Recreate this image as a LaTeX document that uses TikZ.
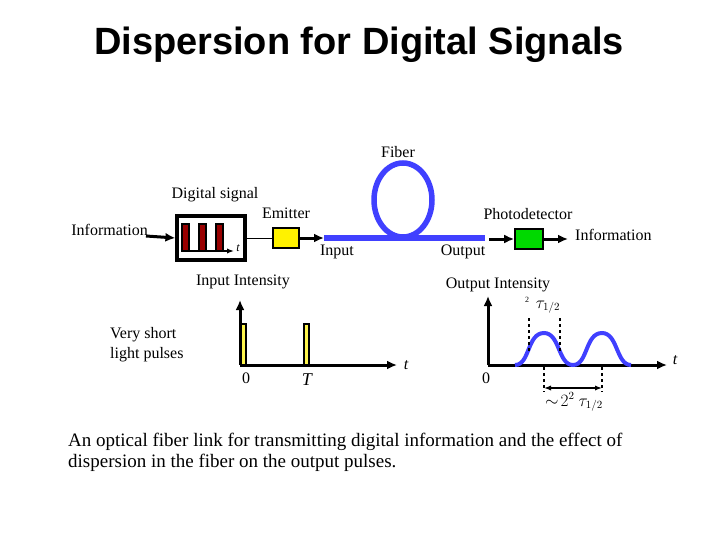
\documentclass[tikz,border=0pt]{standalone}
\usepackage{fontspec}
\setmainfont{Liberation Serif}
\newfontfamily\titlefont{Liberation Sans}
\usetikzlibrary{arrows.meta}
\begin{document}
\begin{tikzpicture}[x=1pt,y=-1pt,
  lbl/.style={inner sep=0pt,font=\fontsize{16}{18}\selectfont},
  arr/.style={line width=3pt,-{Latex[length=10pt,width=9pt]}},
  fib/.style={line width=5.5pt,color=blue!75!white},
  pulse/.style={draw=black,line width=2.6pt,fill=yellow!70!white},
  bar/.style={draw=black,line width=1.4pt,fill=red!60!black},
  dsh/.style={dashed,line width=1.5pt}]
\useasboundingbox (0,0) rectangle (720,540);
\node[font=\titlefont\bfseries\fontsize{38}{42}\selectfont] (title) at (359,45) {Dispersion for Digital Signals};
% top link
\node[lbl] (fiberlbl) at (398,152) {Fiber};
\node[lbl] (dsig) at (215,195) {Digital signal};
\node[lbl] (emlbl) at (286,213) {Emitter};
\node[lbl,anchor=east] (info1) at (148,230) {Information};
\node[draw,line width=3.2pt,minimum width=68pt,minimum height=44pt] (box) at (211,238) {};
\foreach \x in {182,199,216} \draw[bar] (\x,224) rectangle (\x+7,251);
\draw[line width=2.2pt,-{Latex[length=7pt]}] (182,251) -- (234,251);
\node[lbl,font=\itshape\fontsize{12}{14}\selectfont] (tb) at (238,248) {t};
\coordinate (infoend) at (146,236);
\draw[arr] (infoend) -- (box.west);
\node[draw,line width=1.6pt,fill=yellow,minimum width=26pt,minimum height=20pt] (em) at (286,238) {};
\draw[line width=1pt] (box.east |- em) -- (em.west);
\coordinate (fin) at (324,238);
\coordinate (fout) at (485,238);
\draw[arr] (em.east) -- (fin);
\draw[fib] (fin) -- (fout);
\draw[fib] (403,200) ellipse [x radius=29, y radius=37];
\node[lbl] (inlbl) at (337,252) {Input};
\node[lbl] (outlbl) at (463,252) {Output};
\node[draw,line width=1.6pt,fill=green!85!black,minimum width=28pt,minimum height=20pt] (pd) at (529,239) {};
\draw[arr] (489,239) -- (pd.west);
\coordinate (pdout) at (568,239);
\draw[arr] (pd.east) -- (pdout);
\node[lbl] (pdlbl) at (528,214) {Photodetector};
\node[lbl,anchor=west] (info2) at (575,235) {Information};
% input intensity
\node[lbl] (iilbl) at (243,282) {Input Intensity};
\coordinate (o1) at (240,365);
\draw[arr] (o1) -- (240,300);
\draw[arr] (o1) -- (397,365);
\node[lbl,font=\itshape\fontsize{16}{18}\selectfont] (t1) at (406,365) {t};
\draw[pulse] (241,324) rectangle (246,365);
\draw[pulse] (304,324) rectangle (309,365);
\node[lbl] (z1) at (246,378) {0};
\node[lbl,font=\itshape\fontsize{18}{20}\selectfont] (T1) at (307,380) {T};
\node[lbl,align=left,anchor=west] (vs) at (110,345) {Very short\\[2pt]light pulses};
% output intensity
\node[lbl] (oilbl) at (498,285) {Output Intensity};
\coordinate (o2) at (488,365);
\draw[arr] (o2) -- (488,296);
\draw[arr] (o2) -- (667,365);
\node[lbl,font=\itshape\fontsize{16}{18}\selectfont] (t2) at (675,360) {t};
\draw[line width=4pt,blue!75!white] (515,365) .. controls (530,365) and (527,333) .. (544,333)
  .. controls (560,333) and (558,365) .. (573,365)
  .. controls (588,365) and (585,333) .. (602,333)
  .. controls (618,333) and (616,365) .. (631,365);
\draw[dsh] (529,318) -- (529,352);
\draw[dsh] (560,318) -- (560,352);
\draw[dsh] (544,367) -- (544,392);
\draw[dsh] (602,367) -- (602,392);
\draw[line width=2pt,{Latex[length=7pt]}-{Latex[length=7pt]}] (544,388) -- (602,388);
\node[lbl] (z2) at (486,378) {0};
\node[lbl,font=\fontsize{8}{9}\selectfont] (sq1) at (527,300) {2};
\node[lbl] (tau1) at (548,307) {$\tau_{1/2}$};
\node[lbl] (tau2) at (574,402) {$\sim\!2^2\ \tau_{1/2}$};
% caption
\node[anchor=north west,align=left,inner sep=0pt,font=\fontsize{19}{21}\selectfont] (cap) at (68,433)
 {An optical fiber link for transmitting digital information and the effect of\\dispersion in the fiber on the output pulses.};
\end{tikzpicture}
\end{document}
